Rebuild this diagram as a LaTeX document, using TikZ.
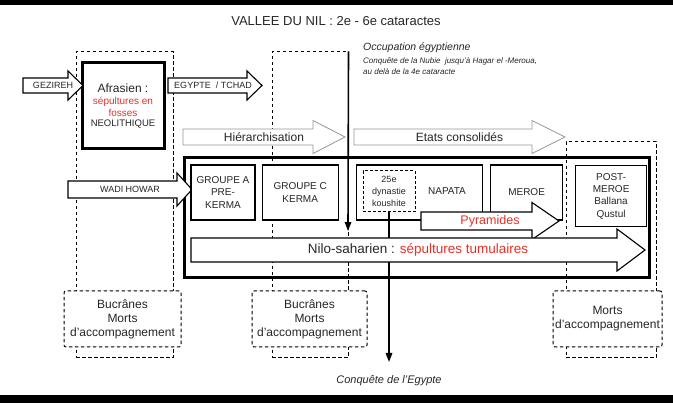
\documentclass[tikz,border=0pt]{standalone}
\usepackage{fontspec}
\setmainfont{Liberation Sans}
\usetikzlibrary{arrows.meta,positioning}
\definecolor{ink}{RGB}{38,38,38}
\definecolor{nilred}{RGB}{232,50,40}
\definecolor{pale}{RGB}{150,150,150}
\newcommand{\fatarrow}[7][]{%
  \draw[fat,#1] (#2,#5-#6) -- (#3,#5-#6) -- (#3,#5-#7) -- (#4,#5)
    -- (#3,#5+#7) -- (#3,#5+#6) -- (#2,#5+#6) -- cycle;}

\begin{document}
\begin{tikzpicture}[
  x=1pt, y=-1pt,
  >={Triangle[length=9pt,width=6.5pt]},
  every node/.append style={text=ink, inner sep=0pt},
  big/.style={font=\fontsize{12}{14}\selectfont},
  mid/.style={font=\fontsize{10}{12.3}\selectfont},
  small/.style={font=\fontsize{9}{11}\selectfont},
  column/.style={draw, dash pattern=on 3.5pt off 2.5pt, line width=1pt},
  tomb/.style={draw, fill=white, dash pattern=on 3.5pt off 2.5pt, line width=1pt, rounded corners=2pt, align=center, big},
  box/.style={draw, fill=white, line width=1.2pt, align=center, mid},
  heavy/.style={draw, line width=3pt},
  fat/.style={draw, fill=white, line width=1.1pt, line join=miter},
  soft/.style={draw=pale, line width=0.8pt},
  link/.style={->, line width=1.6pt}
]
  \useasboundingbox (0,0) rectangle (673,403);
  \fill (0,0) rectangle (673,5);
  \fill (0,395) rectangle (673,403);

  \node[font=\fontsize{13}{16}\selectfont] (title) at (336,21) {VALLEE DU NIL : 2e - 6e cataractes};

  \node[column, minimum width=97pt, minimum height=306pt] (colA) at (124.5,205) {};
  \node[column, minimum width=76pt, minimum height=306pt] (colC) at (310,205) {};
  \node[column, minimum width=90pt, minimum height=216pt] (colP) at (611,250) {};

  \node[tomb, minimum width=117pt, minimum height=56pt] (bucA) at (122.5,319) {Bucrânes\\Morts\\d'accompagnement};
  \node[tomb, minimum width=115pt, minimum height=56pt] (bucC) at (309.5,319) {Bucrânes\\Morts\\d'accompagnement};
  \node[tomb, minimum width=109pt, minimum height=56pt] (mortP) at (607.5,319) {Morts\\d'accompagnement};

  \node[heavy, minimum width=465pt, minimum height=120pt] (frame) at (416.5,218) {};

  \node[heavy, fill=white, minimum width=82pt, minimum height=86pt, align=center] (afra) at (123,106)
    {\fontsize{12}{14}\selectfont Afrasien :\\\textcolor{nilred}{sépultures en}\\\textcolor{nilred}{fosses}\\[-1.5pt]\fontsize{9.5}{11}\selectfont NEOLITHIQUE};

  \fatarrow{23}{68}{83}{85.5}{7.5}{14.5}
  \node[small] (gezTxt) at (53,85.5) {GEZIREH};
  \fatarrow{168}{247}{262}{85.5}{7.5}{14.5}
  \node[small] (egyTxt) at (213,85.5) {EGYPTE\ \ / TCHAD};
  \fatarrow{68}{177}{192}{189.5}{8.5}{16.5}
  \node[small] (wadiTxt) at (130,189.5) {WADI HOWAR};
  \fatarrow[soft]{183}{313}{345}{137}{8}{16.5}
  \node[big] (hierTxt) at (264,137) {Hiérarchisation};
  \fatarrow[soft]{354}{532}{565}{137}{8}{16.5}
  \node[big] (etatsTxt) at (459.5,137) {Etats consolidés};

  \node[box, minimum width=64pt, minimum height=55pt] (grpA) at (223,192.5) {GROUPE A\\PRE-\\KERMA};
  \node[box, minimum width=76pt, minimum height=55pt, right=6pt of grpA] (grpC) {GROUPE C\\KERMA};
  \node[box, minimum width=126pt, minimum height=55pt, right=17pt of grpC] (napata) {};
  \node[mid] (napataTxt) at (447,191) {NAPATA};
  \node[box, line width=1pt, dash pattern=on 3pt off 2pt, minimum width=52pt, minimum height=41pt, font=\fontsize{9}{12}\selectfont] (koush) at (389,191.5) {25e\\dynastie\\koushite};
  \node[box, minimum width=72pt, minimum height=55pt, right=7pt of napata] (meroe) {MEROE};
  \node[box, minimum width=71pt, minimum height=61pt, anchor=north west] (post) at (575,165) {POST-\\MEROE\\Ballana\\Qustul};

  \node[font=\fontsize{10.5}{12}\selectfont\itshape, anchor=base west] (occ) at (363,51) {Occupation égyptienne};
  \node[font=\fontsize{8}{11.5}\selectfont\itshape, anchor=north west, align=left] (occSub) at (363,57)
    {Conquête de la Nubie\ \ jusqu'à Hagar el -Meroua,\\au delà de la 4e cataracte};
  \node[font=\fontsize{11}{13}\selectfont\itshape] (conq) at (389,381) {Conquête de l'Egypte};

  \coordinate (occEnd) at (348,231);
  \coordinate (conqEnd) at (389,362);
  \draw[link] (colC.north east) -- (occEnd);
  \draw[link] (koush.south) -- (conqEnd);

  \fatarrow{421}{532}{559}{221}{9}{18.5}
  \node[font=\fontsize{12.5}{14}\selectfont, text=nilred] (pyrTxt) at (490,221) {Pyramides};
  \fatarrow{191}{617}{645}{250}{12}{21}
  \node[font=\fontsize{13.5}{16}\selectfont] (niloTxt) at (418,250) {Nilo-saharien : \textcolor{nilred}{sépultures tumulaires}};
\end{tikzpicture}
\end{document}
